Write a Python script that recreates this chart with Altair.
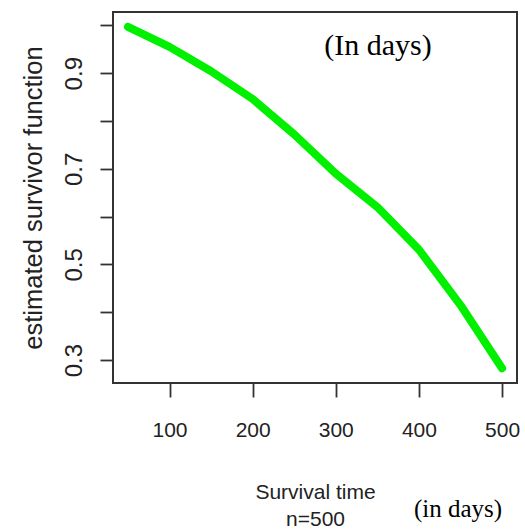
import altair as alt
import pandas as pd

# Estimated survivor function at each survival time (days)
times = [50, 100, 150, 200, 250, 300, 350, 400, 450, 500]
survival = [0.997, 0.955, 0.904, 0.846, 0.772, 0.690, 0.620, 0.531, 0.415, 0.283]

x_ticks = [100, 200, 300, 400, 500]
y_ticks = [0.3, 0.4, 0.5, 0.6, 0.7, 0.8, 0.9, 1.0]
y_labelled = ["0.3", "0.5", "0.7", "0.9"]

df = pd.DataFrame({"time": times, "surv": survival})

SANS = "Liberation Sans, Arial, sans-serif"
SERIF = "Liberation Serif, Times New Roman, serif"
INK = "#222222"
FRAME = "#333333"

x_axis = alt.Axis(
    values=x_ticks,
    grid=False,
    domain=False,
    tickSize=14,
    tickColor=FRAME,
    tickWidth=1.8,
    labelFont=SANS,
    labelFontSize=21,
    labelColor=INK,
    labelBaseline="alphabetic",
    labelPadding=39.5,
    labelFlush=False,
    labelOverlap=False,
    title=["Survival time", "n=500"],
    titleFont=SANS,
    titleFontSize=21,
    titleFontWeight="normal",
    titleColor=INK,
    titleBaseline="alphabetic",
    titleLineHeight=27,
    titleX=202,
    titleY=115,
    titleAlign="center",
)

y_axis = alt.Axis(
    values=y_ticks,
    grid=False,
    domain=False,
    tickSize=13,
    tickColor=FRAME,
    tickWidth=1.8,
    labelExpr="indexof(" + str(y_labelled) + ", format(datum.value, '.1f')) >= 0 ? format(datum.value, '.1f') : ''",
    labelFont=SANS,
    labelFontSize=24,
    labelColor=INK,
    labelAngle=270,
    labelAlign="center",
    labelBaseline="alphabetic",
    labelPadding=18.5,
    labelFlush=False,
    labelOverlap=False,
    title="estimated survivor function",
    titleFont=SANS,
    titleFontSize=25.5,
    titleFontWeight="normal",
    titleColor=INK,
    titleAngle=270,
    titleAlign="center",
    titleBaseline="alphabetic",
    titleX=-72,
    titleY=185.5,
)

line = alt.Chart(df).mark_line(
    color="#00F000", strokeWidth=8, strokeCap="round", strokeJoin="round"
).encode(
    x=alt.X("time:Q", scale=alt.Scale(domain=[32, 518], nice=False, zero=False), axis=x_axis),
    y=alt.Y("surv:Q", scale=alt.Scale(domain=[0.252, 1.028], nice=False, zero=False), axis=y_axis),
)

# Box around the plotting region
frame = alt.Chart(pd.DataFrame({"box": [0]})).mark_rect(
    filled=False, stroke=FRAME, strokeWidth=2
).encode(
    x=alt.value(0), x2=alt.value(404), y=alt.value(0), y2=alt.value(371)
)

unit_in = alt.Chart(pd.DataFrame({"note": ["(In days)"]})).mark_text(
    font=SERIF, fontSize=30, color="#000000", align="center", baseline="alphabetic"
).encode(text="note:N", x=alt.value(265), y=alt.value(43))

unit_out = alt.Chart(pd.DataFrame({"note": ["(in days)"]})).mark_text(
    font=SERIF, fontSize=25, color="#000000", align="center", baseline="alphabetic"
).encode(text="note:N", x=alt.value(345), y=alt.value(505))

chart = alt.layer(frame, line, unit_in, unit_out).properties(
    width=404,
    height=371,
    autosize=alt.AutoSizeParams(type="none"),
    padding={"left": 113, "top": 12, "right": 8, "bottom": 148},
    background="#ffffff",
).configure_view(
    strokeWidth=0
)

chart.save("out.html", embed_options={"renderer": "svg", "actions": False})
